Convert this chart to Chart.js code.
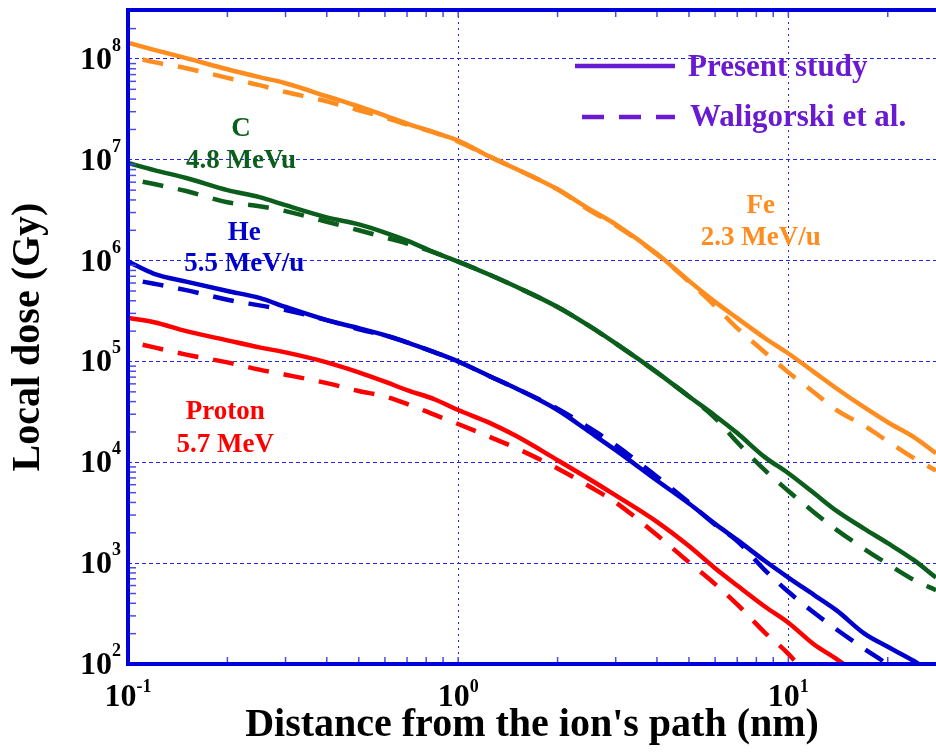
<!DOCTYPE html>
<html><head><meta charset="utf-8">
<script src="https://cdn.jsdelivr.net/npm/chart.js@4.4.1/dist/chart.umd.min.js"></script>
<style>html,body{margin:0;padding:0;background:#fff;}#wrap{width:936px;height:753px;position:relative;}</style>
</head><body><div id="wrap"><canvas id="c" width="936" height="753"></canvas></div>
<script>
// ---- data (distance in nm, local dose in Gy) ----
const distance = [0.1, 0.12, 0.15, 0.2, 0.25, 0.3, 0.4, 0.5, 0.6, 0.7, 0.85, 1, 1.25, 1.5, 2, 2.5, 3, 4, 5, 6, 7, 8.5, 10, 12, 14, 17, 20, 24, 28];
const fePresent = [1.45e8, 1.23e8, 1.02e8, 7.9e7, 6.6e7, 5.75e7, 4.27e7, 3.39e7, 2.75e7, 2.29e7, 1.86e7, 1.55e7, 1.07e7, 8.1e6, 5.1e6, 3.24e6, 2.29e6, 1.17e6, 6.3e5, 3.9e5, 2.69e5, 1.7e5, 1.2e5, 7.8e4, 5.4e4, 3.5e4, 2.5e4, 1.78e4, 1.23e4];
const feWaligorski = [1.07e8, 9.3e7, 8.1e7, 6.5e7, 5.5e7, 4.7e7, 3.8e7, 3.1e7, 2.63e7, 2.24e7, 1.86e7, 1.51e7, 1.07e7, 8.1e6, 5.1e6, 3.16e6, 2.24e6, 1.15e6, 6.2e5, 3.55e5, 2.14e5, 1.23e5, 7.8e4, 4.9e4, 3.3e4, 2.3e4, 1.62e4, 1.1e4, 8.3e3];
const cPresent = [9.3e6, 7.9e6, 6.6e6, 5.0e6, 4.27e6, 3.55e6, 2.69e6, 2.29e6, 1.9e6, 1.58e6, 1.2e6, 9.8e5, 7.2e5, 5.5e5, 3.47e5, 2.24e5, 1.51e5, 7.8e4, 4.5e4, 2.9e4, 1.95e4, 1.12e4, 7.8e3, 4.9e3, 3.3e3, 2.19e3, 1.58e3, 1.07e3, 7.2e2];
const cWaligorski = [6.5e6, 5.75e6, 4.9e6, 3.8e6, 3.47e6, 3.1e6, 2.43e6, 2.0e6, 1.7e6, 1.48e6, 1.2e6, 9.8e5, 7.2e5, 5.5e5, 3.47e5, 2.24e5, 1.51e5, 7.8e4, 4.5e4, 2.75e4, 1.58e4, 8.3e3, 5.2e3, 3.16e3, 2.14e3, 1.38e3, 9.8e2, 6.8e2, 5.4e2];
const hePresent = [9.8e5, 7.4e5, 6.2e5, 5.0e5, 4.27e5, 3.47e5, 2.57e5, 2.14e5, 1.82e5, 1.55e5, 1.23e5, 1.0e5, 7.1e4, 5.4e4, 3.3e4, 2.0e4, 1.32e4, 6.6e3, 3.9e3, 2.45e3, 1.7e3, 1.05e3, 7.2e2, 4.8e2, 3.4e2, 2.0e2, 1.48e2, 1.07e2, 76];
const heWaligorski = [6.6e5, 5.9e5, 5.1e5, 4.1e5, 3.6e5, 3.24e5, 2.57e5, 2.09e5, 1.82e5, 1.55e5, 1.23e5, 1.0e5, 7.1e4, 5.4e4, 3.4e4, 2.19e4, 1.48e4, 7.2e3, 4.0e3, 2.4e3, 1.66e3, 8.5e2, 5.2e2, 3.2e2, 2.2e2, 1.41e2, 98, 56, null];
const protonPresent = [2.7e5, 2.45e5, 2.0e5, 1.62e5, 1.38e5, 1.23e5, 9.8e4, 7.8e4, 6.3e4, 5.2e4, 4.2e4, 3.3e4, 2.45e4, 1.82e4, 1.05e4, 6.8e3, 4.7e3, 2.57e3, 1.48e3, 8.9e2, 6.0e2, 3.7e2, 2.57e2, 1.55e2, 1.12e2, 71, null, null, null];
const protonWaligorski = [1.58e5, 1.38e5, 1.17e5, 9.8e4, 8.3e4, 7.4e4, 6.1e4, 5.1e4, 4.5e4, 3.8e4, 2.95e4, 2.4e4, 1.78e4, 1.38e4, 8.7e3, 5.75e3, 4.0e3, 1.9e3, 1.02e3, 6.2e2, 3.9e2, 2.04e2, 1.26e2, 63, null, null, null, null, null];
const xTickValues = [0.1, 1, 10];
const yTickValues = [1e2, 1e3, 1e4, 1e5, 1e6, 1e7, 1e8];
const legendLabels = ['Present study', 'Waligorski et al.'];
const ionLabels = [
  {lines: ['C', '4.8 MeVu'], x: 0.22, y: [2.0e7, 9.8e6], color: '#0b5e1c'},
  {lines: ['He', '5.5 MeV/u'], x: 0.225, y: [1.89e6, 9.3e5], color: '#0000cc'},
  {lines: ['Proton', '5.7 MeV'], x: 0.197, y: [3.16e4, 1.49e4], color: '#ff0000'},
  {lines: ['Fe', '2.3 MeV/u'], x: 8.25, y: [3.5e6, 1.68e6], color: '#ff8c1e'}
];

const SERIF = "'Liberation Serif','Times New Roman',serif";
const pts = arr => distance.map((x, i) => ({x: x, y: arr[i]}));
function ds(label, arr, color, dashed) {
  return {label: label, data: pts(arr), borderColor: color, borderWidth: 4.5, pointRadius: 0,
    fill: false, cubicInterpolationMode: 'monotone', spanGaps: false, clip: 0, borderCapStyle: 'butt', borderJoinStyle: 'round',
    borderDash: dashed ? [21, 15] : [], borderDashOffset: dashed ? 21 : 0};
}

const decorPlugin = {
  id: 'decor',
  afterDatasetsDraw(chart) {
    const c = chart.ctx, a = chart.chartArea, xs = chart.scales.x, ys = chart.scales.y;
    c.save();
    // minor ticks
    c.strokeStyle = '#4b4be8'; c.lineWidth = 1.5;
    for (let e = 2; e <= 8; e++) {
      for (let k = 2; k <= 9; k++) {
        const v = k * Math.pow(10, e);
        if (v > ys.max) continue;
        const p = ys.getPixelForValue(v);
        c.beginPath(); c.moveTo(a.left, p); c.lineTo(a.left + 8, p); c.stroke();
      }
    }
    for (let e = -1; e <= 1; e++) {
      for (let k = 1; k <= 9; k++) {
        const v = k * Math.pow(10, e);
        if (v > xs.max) continue;
        const p = xs.getPixelForValue(v);
        c.beginPath(); c.moveTo(p, a.bottom); c.lineTo(p, a.bottom - 7); c.stroke();
        c.beginPath(); c.moveTo(p, a.top); c.lineTo(p, a.top + 7); c.stroke();
      }
    }
    // frame
    c.strokeStyle = '#0000dd'; c.lineWidth = 4;
    c.beginPath(); c.moveTo(a.right + 2, a.top); c.lineTo(a.left, a.top); c.lineTo(a.left, a.bottom); c.lineTo(a.right + 2, a.bottom); c.stroke();

    // tick labels
    c.fillStyle = '#000';
    yTickValues.forEach(v => {
      const p = ys.getPixelForValue(v);
      const ex = String(Math.round(Math.log10(v)));
      c.font = 'bold 32px ' + SERIF; c.textAlign = 'right'; c.textBaseline = 'alphabetic';
      c.fillText('10', 112, p + 10);
      c.font = 'bold 18px ' + SERIF; c.textAlign = 'left';
      c.fillText(ex, 112, p - 8);
    });
    xTickValues.forEach(v => {
      const p = xs.getPixelForValue(v);
      const ex = String(Math.round(Math.log10(v)));
      c.font = 'bold 32px ' + SERIF; const w1 = c.measureText('10').width;
      c.font = 'bold 18px ' + SERIF; const w2 = c.measureText(ex).width;
      const x0 = p - (w1 + w2) / 2;
      c.textAlign = 'left'; c.textBaseline = 'alphabetic';
      c.font = 'bold 32px ' + SERIF; c.fillText('10', x0, 706);
      c.font = 'bold 18px ' + SERIF; c.fillText(ex, x0 + w1, 692);
    });

    // ion labels
    c.font = 'bold 27px ' + SERIF; c.textAlign = 'center'; c.textBaseline = 'middle';
    ionLabels.forEach(l => {
      c.fillStyle = l.color;
      l.lines.forEach((t, i) => c.fillText(t, xs.getPixelForValue(l.x), ys.getPixelForValue(l.y[i])));
    });

    // legend
    const lc = '#6a1bd1';
    c.strokeStyle = lc; c.fillStyle = lc; c.lineWidth = 4.5;
    c.beginPath(); c.moveTo(a.left + 447, a.top + 56); c.lineTo(a.left + 547, a.top + 56); c.stroke();
    c.setLineDash([22, 15]);
    c.beginPath(); c.moveTo(a.left + 454, a.top + 107); c.lineTo(a.left + 547, a.top + 107); c.stroke();
    c.setLineDash([]);
    c.font = 'bold 31px ' + SERIF; c.textAlign = 'left'; c.textBaseline = 'middle';
    c.fillText(legendLabels[0], a.left + 560, a.top + 58);
    c.fillText(legendLabels[1], a.left + 562, a.top + 108);
    c.restore();
  }
};

new Chart(document.getElementById('c').getContext('2d'), {
  type: 'line',
  data: {datasets: [
    ds('Fe Waligorski', feWaligorski, '#ff8c1e', true),
    ds('Fe Present', fePresent, '#ff8c1e', false),
    ds('C Waligorski', cWaligorski, '#0b5e1c', true),
    ds('C Present', cPresent, '#0b5e1c', false),
    ds('He Waligorski', heWaligorski, '#0000cc', true),
    ds('He Present', hePresent, '#0000cc', false),
    ds('Proton Waligorski', protonWaligorski, '#ff0000', true),
    ds('Proton Present', protonPresent, '#ff0000', false)
  ]},
  options: {
    responsive: false, animation: false, devicePixelRatio: 1,
    layout: {padding: {top: 10, left: 0, right: 0, bottom: 0}},
    plugins: {legend: {display: false}, tooltip: {enabled: false}},
    scales: {
      x: {
        type: 'logarithmic', min: 0.1, max: 28,
        afterBuildTicks: s => { s.ticks = xTickValues.map(v => ({value: v})); },
        afterFit: s => { s.height = 89; },
        ticks: {display: false},
        grid: {color: '#2323ee', lineWidth: 1, drawTicks: false},
        border: {display: false, dash: [2, 4]},
        title: {display: true, text: "Distance from the ion's path (nm)", color: '#000',
          font: {family: SERIF, size: 40, weight: 'bold', lineHeight: 1.2}, padding: {top: 0, bottom: 3}}
      },
      y: {
        type: 'logarithmic', min: 100, max: 3.06e8,
        afterBuildTicks: s => { s.ticks = yTickValues.map(v => ({value: v})); },
        afterFit: s => { s.width = 128; },
        ticks: {display: false},
        grid: {color: '#2323ee', lineWidth: 1, drawTicks: false},
        border: {display: false, dash: [4, 3]},
        title: {display: true, text: 'Local dose (Gy)', color: '#000',
          font: {family: SERIF, size: 40, weight: 'bold', lineHeight: 1.2}, padding: {top: 5, bottom: 0}}
      }
    }
  },
  plugins: [decorPlugin]
});
</script>
</body></html>
